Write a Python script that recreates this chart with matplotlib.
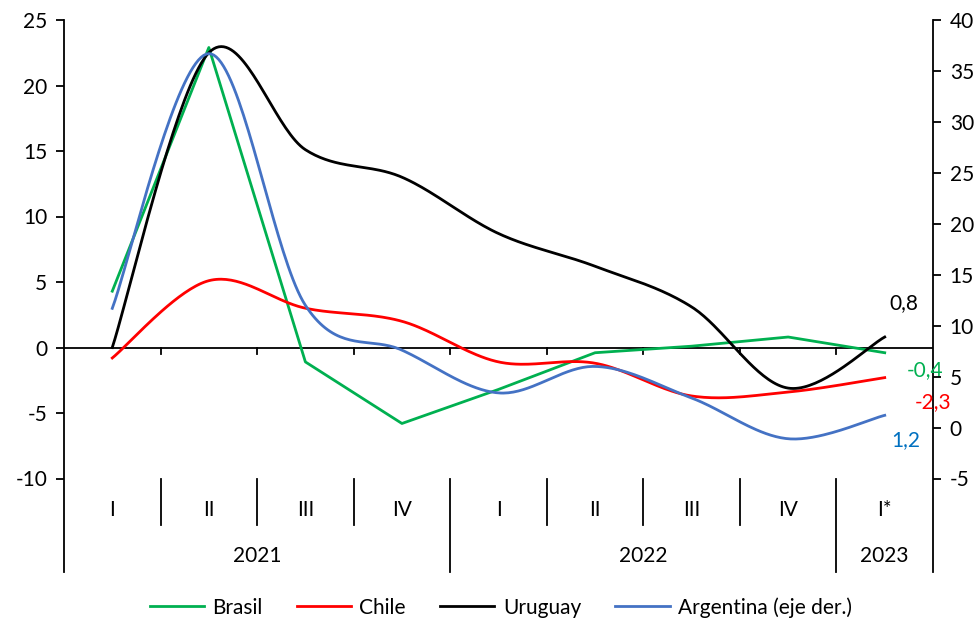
import numpy as np
import matplotlib
matplotlib.use("Agg")
import matplotlib.pyplot as plt
from matplotlib.lines import Line2D

plt.rcParams['font.family'] = ['Lato', 'DejaVu Sans']
plt.rcParams['axes.unicode_minus'] = False

quarters = ["I", "II", "III", "IV", "I", "II", "III", "IV", "I*"]
years = ["2021", "2022", "2023"]
year_spans = [(0, 3), (4, 7), (8, 8)]

brasil = [4.3, 22.9, -1.1, -5.8, -3.2, -0.4, 0.1, 0.8, -0.4]
chile = [-0.8, 5.1, 3.0, 2.0, -1.1, -1.2, -3.7, -3.4, -2.3]
uruguay = [0.0, 22.5, 15.1, 13.0, 8.7, 6.2, 3.1, -3.1, 0.8]
argentina = [11.7, 36.7, 12.0, 7.6, 3.4, 6.0, 2.9, -1.1, 1.2]

end_labels = [("0,8", "black"), ("-0,4", "#00B050"), ("-2,3", "#FF0000"), ("1,2", "#0070C0")]

C_BR, C_CL, C_UY, C_AR = "#00B050", "#FF0000", "#000000", "#4472C4"
FS = 15


def smooth(x, y, n=40):
    x = np.asarray(x, float)
    y = np.asarray(y, float)
    P = np.column_stack([x, y])
    P = np.vstack([P[0], P, P[-1]])
    out = []
    for i in range(1, len(P) - 2):
        p0, p1, p2, p3 = P[i - 1], P[i], P[i + 1], P[i + 2]
        c1 = p1 + (p2 - p0) / 6.0
        c2 = p2 - (p3 - p1) / 6.0
        t = np.linspace(0, 1, n)[:, None]
        seg = ((1 - t) ** 3) * p1 + 3 * ((1 - t) ** 2) * t * c1 + 3 * (1 - t) * t ** 2 * c2 + t ** 3 * p2
        out.append(seg if i == 1 else seg[1:])
    S = np.vstack(out)
    return S[:, 0], S[:, 1]


fig = plt.figure(figsize=(9.8, 6.19), dpi=100)
ax = fig.add_axes([64 / 980, 1 - 478.5 / 619, (933 - 64) / 980, (478.5 - 20) / 619])
ax2 = ax.twinx()

x = np.arange(len(quarters))
lw = 2.0
ax.plot(x, brasil, color=C_BR, lw=lw, label="Brasil", zorder=3)
sx, sy = smooth(x, chile)
ax.plot(sx, sy, color=C_CL, lw=lw, label="Chile", zorder=3)
sx, sy = smooth(x, uruguay)
ax.plot(sx, sy, color=C_UY, lw=lw, label="Uruguay", zorder=3)
sx, sy = smooth(x, argentina)
ax2.plot(sx, sy, color=C_AR, lw=lw, label="Argentina (eje der.)", zorder=3)

ax.set_xlim(-0.5, 8.5)
ax.set_ylim(-10, 25)
ax2.set_ylim(-5, 40)
ax.set_yticks(np.arange(-10, 26, 5))
ax2.set_yticks(np.arange(-5, 41, 5))
ax.set_xticks([])

for a in (ax, ax2):
    for s in a.spines.values():
        s.set_visible(False)
ax.tick_params(axis='y', direction='out', length=6, width=1.3, labelsize=FS, pad=6, colors='black')
ax2.tick_params(axis='y', direction='out', length=6, width=1.3, labelsize=FS, pad=6, colors='black')

# horizontal axis at zero with ticks
ax.axhline(0, color='black', lw=1.3, zorder=2)
for b in np.arange(0.5, 8.5, 1.0):
    ax.plot([b, b], [0, -0.5], color='black', lw=1.3, clip_on=False, zorder=2)

trans = ax.get_xaxis_transform()
y_q = -0.1014
y_y = -0.204
for xe in (-0.5, 8.5):
    ax.add_line(Line2D([xe, xe], [y_y, 1], transform=trans, color='black', lw=1.3, clip_on=False))
for b in np.arange(0.5, 8.5, 1.0):
    low = y_y if b in (3.5, 7.5) else y_q
    ax.add_line(Line2D([b, b], [low, 0], transform=trans, color='black', lw=1.3, clip_on=False))

for i, q in enumerate(quarters):
    ax.text(i, -0.0687, q, transform=trans, ha='center', va='center', fontsize=FS)
for yl, (a0, a1) in zip(years, year_spans):
    ax.text((a0 + a1) / 2, -0.169, yl, transform=trans, ha='center', va='center', fontsize=FS)

# end labels
ax.text(8.2, 3.4, end_labels[0][0], color=end_labels[0][1], fontsize=FS, ha='center', va='center')
ax.text(8.42, -1.7, end_labels[1][0], color=end_labels[1][1], fontsize=FS, ha='center', va='center')
ax.text(8.5, -4.2, end_labels[2][0], color=end_labels[2][1], fontsize=FS, ha='center', va='center')
ax.text(8.22, -7.1, end_labels[3][0], color=end_labels[3][1], fontsize=FS, ha='center', va='center')

h1, l1 = ax.get_legend_handles_labels()
h2, l2 = ax2.get_legend_handles_labels()
fig.legend(h1 + h2, l1 + l2, loc='center', bbox_to_anchor=(0.511, 0.019), ncol=4, frameon=False,
           fontsize=FS, handlelength=2.6, columnspacing=1.65, handletextpad=0.4)

fig.savefig("out.png", dpi=100)
